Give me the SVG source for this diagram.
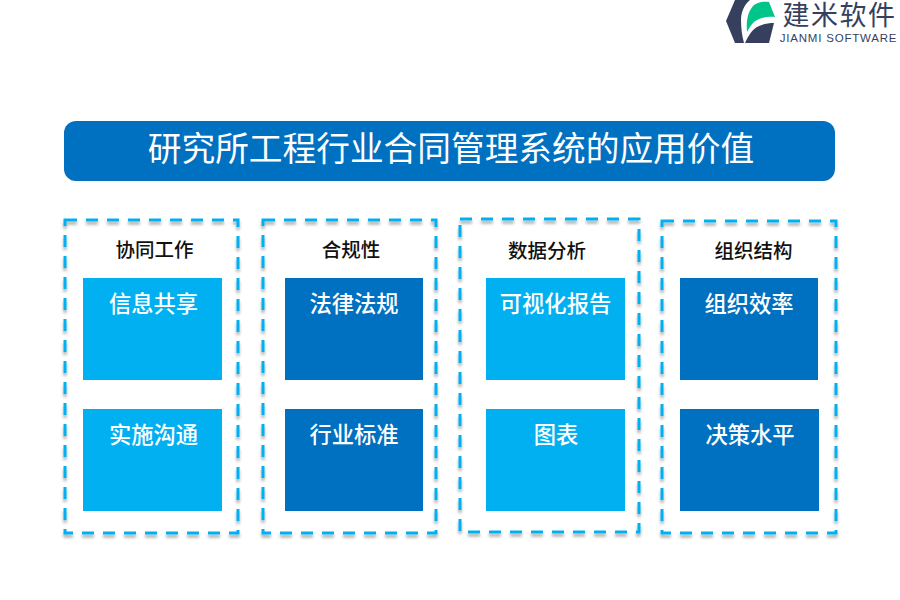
<svg xmlns="http://www.w3.org/2000/svg" width="900" height="600" viewBox="0 0 900 600">
<style>
text{font-family:"Noto Sans CJK SC","Liberation Sans",sans-serif;text-anchor:middle}
.frame{fill:none;stroke:#00b0f0;stroke-width:3;stroke-dasharray:12 9;filter:url(#sh)}
.head{font-size:19.5px;font-weight:500;fill:#111}
.lab{font-size:22.300px;font-weight:500;fill:#fff}
.light{fill:#00b0f0}
.dark{fill:#0070c0}
</style>
<defs>
<filter id="sh" x="-5%" y="-5%" width="110%" height="110%"><feDropShadow dx="0" dy="3" stdDeviation="1.5" flood-color="#000" flood-opacity="0.35"/></filter>
</defs>
<rect width="900" height="600" fill="#fff"/>
<g id="logo">
<path d="M735 0H750C744 5 741 12 741 20C741 28 742 36 744 43H735L726 21Z" fill="#363f5e"/>
<path d="M747 32C746 20 748 11 754 5C758 2 764 1 769 2L775 17C766 16 759 18 754 22C751 25 749 28 747 32Z" fill="#00c58a"/>
<path d="M745 43C748 36 752 30 757 27C762 24 768 23 774 23L769 43Z" fill="#363f5e"/>
<text x="839.500" y="25" style="font-size:27px;fill:#363f5e;letter-spacing:1.500px">建米软件</text>
<text x="838.500" y="42" style="font-family:'Liberation Sans',sans-serif;font-size:11.500px;fill:#363f5e;letter-spacing:0.800px">JIANMI SOFTWARE</text>
</g>
<g id="title">
<rect x="64" y="121" width="771" height="60" rx="12" class="dark"/>
<text x="451" y="161" style="font-size:33.700px;fill:#fff">研究所工程行业合同管理系统的应用价值</text>
</g>
<g id="col1">
<rect x="65" y="220" width="173" height="313" class="frame"/>
<text x="154.500" y="257" class="head">协同工作</text>
<g id="n1a"><rect x="83" y="278" width="139" height="102" class="light"/><text x="153.500" y="312" class="lab">信息共享</text></g>
<g id="n1b"><rect x="83" y="409" width="139" height="102" class="light"/><text x="153.500" y="443" class="lab">实施沟通</text></g>
</g>
<g id="col2">
<rect x="263" y="220" width="173" height="313" class="frame"/>
<text x="351" y="257" class="head">合规性</text>
<g id="n2a"><rect x="285" y="278" width="138" height="102" class="dark"/><text x="354" y="312" class="lab">法律法规</text></g>
<g id="n2b"><rect x="285" y="409" width="138" height="102" class="dark"/><text x="354" y="443" class="lab">行业标准</text></g>
</g>
<g id="col3">
<rect x="460" y="219" width="179" height="313" class="frame"/>
<text x="547" y="258" class="head">数据分析</text>
<g id="n3a"><rect x="486" y="278" width="139" height="102" class="light"/><text x="555.500" y="312" class="lab">可视化报告</text></g>
<g id="n3b"><rect x="486" y="409" width="139" height="102" class="light"/><text x="556" y="443" class="lab">图表</text></g>
</g>
<g id="col4">
<rect x="662" y="221" width="174" height="312" class="frame"/>
<text x="753.500" y="258" class="head">组织结构</text>
<g id="n4a"><rect x="680" y="278" width="138" height="102" class="dark"/><text x="749" y="312" class="lab">组织效率</text></g>
<g id="n4b"><rect x="680" y="409" width="139" height="102" class="dark"/><text x="750" y="443" class="lab">决策水平</text></g>
</g>
</svg>
